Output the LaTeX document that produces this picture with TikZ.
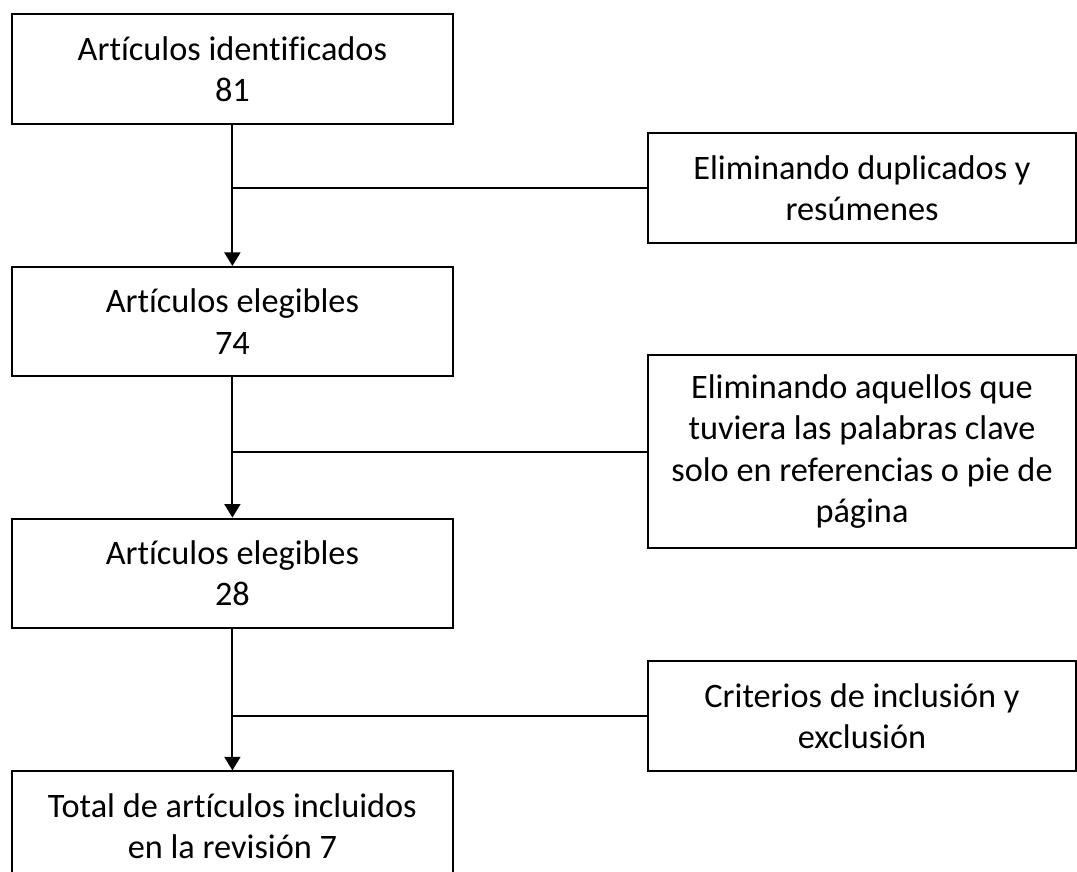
\documentclass[tikz,border=0pt]{standalone}
\usepackage{fontspec}
\setmainfont{Carlito}[Ligatures=CommonOff]
\usetikzlibrary{positioning,arrows.meta}

\tikzset{
  stage/.style={draw, line width=0.05cm, minimum width=11.03cm, minimum height=2.73cm,
    align=center, inner sep=0pt, font=\fontsize{24.4}{29.4}\selectfont},
  filter/.style={stage, minimum width=10.7cm},
  link/.style={line width=0.05cm}
}

\begin{document}
\begin{tikzpicture}[>={Triangle[width=0.4cm,length=0.34cm]}]
    \useasboundingbox (0,0) rectangle (26.925,-21.8);

    % Main flow
    \node[stage] (identificados) at (5.81,-1.725) {Artículos identificados\\81};
    \node[stage] (elegiblesA) at (5.81,-8.04) {Artículos elegibles\\74};
    \node[stage] (elegiblesB) at (5.81,-14.33) {Artículos elegibles\\28};
    \node[stage] (incluidos) at (5.81,-20.65) {Total de artículos incluidos\\en la revisión 7};

    % Filters
    \node[filter] (duplicados) at (21.55,-4.7) {Eliminando duplicados y\\resúmenes};
    \node[filter, minimum height=4.83cm] (claves) at (21.55,-11.29)
        {Eliminando aquellos que\\tuviera las palabras clave\\solo en referencias o pie de\\página};
    \node[filter] (criterios) at (21.55,-17.9) {Criterios de inclusión y\\exclusión};

    % Arrows
    \draw[link,->] (identificados) -- (elegiblesA);
    \draw[link,->] (elegiblesA) -- (elegiblesB);
    \draw[link,->] (elegiblesB) -- (incluidos);

    % Side links
    \draw[link] (duplicados.west) -- (duplicados.west -| identificados);
    \draw[link] (claves.west) -- (claves.west -| elegiblesA);
    \draw[link] (criterios.west) -- (criterios.west -| elegiblesB);
\end{tikzpicture}
\end{document}
